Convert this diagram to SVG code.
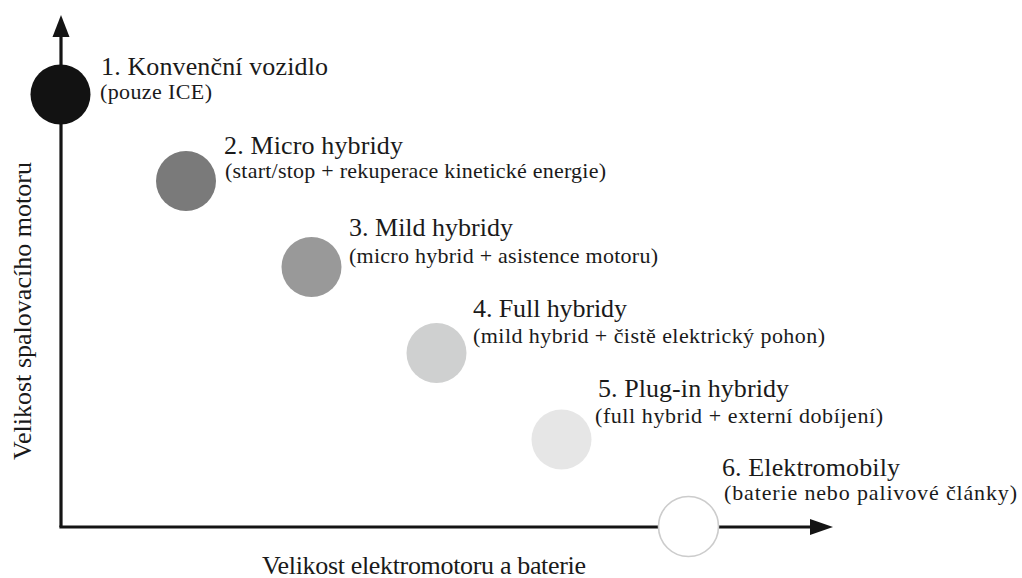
<svg xmlns="http://www.w3.org/2000/svg" width="1022" height="578" viewBox="0 0 1022 578">
<style>
text{font-family:"Liberation Serif",Tinos,"Times New Roman","DejaVu Serif",serif;fill:#1a1a1a}
.t{font-size:26px}
.s{font-size:22px}
.ax{font-size:26px}
.axis{stroke:#141414;stroke-width:3.2;fill:none}
.head{fill:#141414}
</style>
<rect width="1022" height="578" fill="#fff"/>
<g id="connectors">
<line class="axis" x1="61" y1="34" x2="61" y2="527"/>
<polygon class="head" points="61,15 52.5,37 69.5,37"/>
<line class="axis" x1="59.4" y1="527" x2="812" y2="527"/>
<polygon class="head" points="833,527 810,519 810,535"/>
</g>
<g id="node1">
<circle cx="60.5" cy="94.5" r="30" fill="#121212"/>
<text class="t" x="101" y="74.5" textLength="227" lengthAdjust="spacing">1. Konvenční vozidlo</text>
<text class="s" x="100" y="98.5" textLength="112" lengthAdjust="spacing">(pouze ICE)</text>
</g>
<g id="node2">
<circle cx="186" cy="181" r="30" fill="#7a7a7a"/>
<text class="t" x="224" y="154" textLength="179" lengthAdjust="spacing">2. Micro hybridy</text>
<text class="s" x="225" y="178" textLength="381" lengthAdjust="spacing">(start/stop + rekuperace kinetické energie)</text>
</g>
<g id="node3">
<circle cx="311.5" cy="267" r="30" fill="#999999"/>
<text class="t" x="349" y="236" textLength="164" lengthAdjust="spacing">3. Mild hybridy</text>
<text class="s" x="349" y="263" textLength="309" lengthAdjust="spacing">(micro hybrid + asistence motoru)</text>
</g>
<g id="node4">
<circle cx="436.5" cy="353" r="30" fill="#cfd0d0"/>
<text class="t" x="473" y="317" textLength="154" lengthAdjust="spacing">4. Full hybridy</text>
<text class="s" x="473" y="343" textLength="352" lengthAdjust="spacing">(mild hybrid + čistě elektrický pohon)</text>
</g>
<g id="node5">
<circle cx="561.5" cy="439.5" r="30" fill="#e6e6e6"/>
<text class="t" x="598" y="397" textLength="191" lengthAdjust="spacing">5. Plug-in hybridy</text>
<text class="s" x="595" y="423" textLength="288" lengthAdjust="spacing">(full hybrid + externí dobíjení)</text>
</g>
<g id="node6">
<circle cx="688.5" cy="526.5" r="30" fill="#ffffff" stroke="#cccccc" stroke-width="1.6"/>
<text class="t" x="722" y="476" textLength="178" lengthAdjust="spacing">6. Elektromobily</text>
<text class="s" x="724" y="500" textLength="293" lengthAdjust="spacing">(baterie nebo palivové články)</text>
</g>
<g id="axis-labels">
<text class="ax" x="262" y="574" textLength="324" lengthAdjust="spacing">Velikost elektromotoru a baterie</text>
<text class="ax" transform="translate(31,460) rotate(-90)" x="0" y="0" textLength="298" lengthAdjust="spacing">Velikost spalovacího motoru</text>
</g>
</svg>
